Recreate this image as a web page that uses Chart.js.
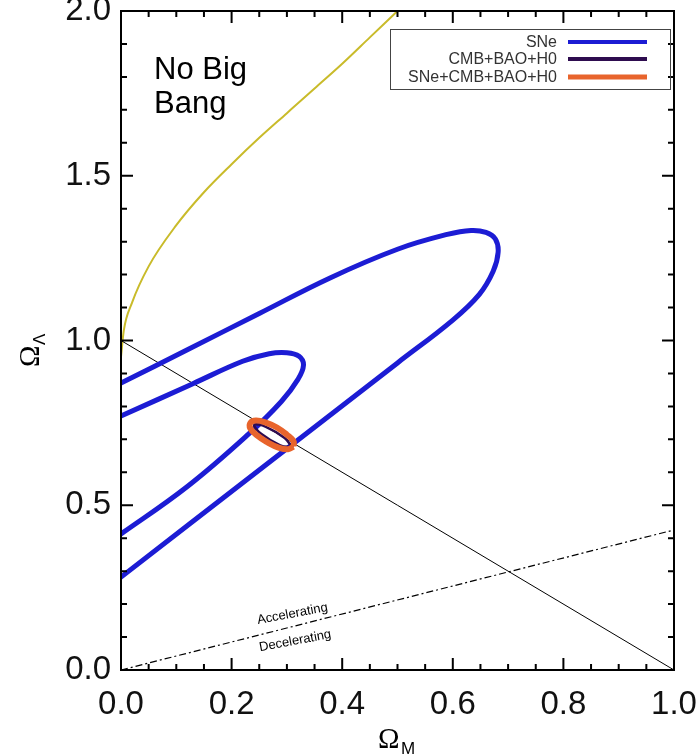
<!DOCTYPE html>
<html>
<head>
<meta charset="utf-8">
<script src="https://cdn.jsdelivr.net/npm/chart.js@4/dist/chart.umd.min.js"></script>
<style>
  body { margin: 0; background: #fff; }
  canvas { display: block; }
</style>
</head>
<body>
<canvas id="omegaChart" width="698" height="755"></canvas>
<script>
// --------------------
// DATA
// --------------------
const xTicks = [0, 0.2, 0.4, 0.6, 0.8, 1.0];
const yTicks = [0, 0.5, 1.0, 1.5, 2.0];

const legendLabels = ["SNe", "CMB+BAO+H0", "SNe+CMB+BAO+H0"];

// SNe outer contour (runs off the left edge)
const sneOuter = [
  {x: -0.05, y: 0.217}, {x: 0, y: 0.282}, {x: 0.25, y: 0.607}, {x: 0.5, y: 0.932},
  {x: 0.6, y: 1.062}, {x: 0.648, y: 1.140}, {x: 0.673, y: 1.210}, {x: 0.682, y: 1.268},
  {x: 0.677, y: 1.308}, {x: 0.660, y: 1.328}, {x: 0.633, y: 1.334}, {x: 0.590, y: 1.322},
  {x: 0.500, y: 1.277}, {x: 0.378, y: 1.190}, {x: 0.250, y: 1.082}, {x: 0.120, y: 0.972},
  {x: 0, y: 0.871}, {x: -0.05, y: 0.830}
];

// SNe inner contour
const sneInner = [
  {x: -0.05, y: 0.355}, {x: 0, y: 0.413}, {x: 0.120, y: 0.557}, {x: 0.230, y: 0.715},
  {x: 0.290, y: 0.815}, {x: 0.320, y: 0.882}, {x: 0.330, y: 0.925}, {x: 0.322, y: 0.952},
  {x: 0.300, y: 0.963}, {x: 0.268, y: 0.960}, {x: 0.220, y: 0.937}, {x: 0.130, y: 0.869},
  {x: 0, y: 0.771}, {x: -0.05, y: 0.735}
];

// CMB+BAO+H0
const cmbContour = [
  {x: 0.309, y: 0.676}, {x: 0.288, y: 0.682}, {x: 0.254, y: 0.716}, {x: 0.241, y: 0.744},
  {x: 0.262, y: 0.738}, {x: 0.296, y: 0.704}, {x: 0.309, y: 0.676}
];

// SNe+CMB+BAO+H0
const combContour = [
  {x: 0.312, y: 0.678}, {x: 0.302, y: 0.670}, {x: 0.285, y: 0.675}, {x: 0.265, y: 0.691},
  {x: 0.246, y: 0.712}, {x: 0.234, y: 0.733}, {x: 0.234, y: 0.750}, {x: 0.244, y: 0.757},
  {x: 0.262, y: 0.751}, {x: 0.282, y: 0.736}, {x: 0.300, y: 0.714}, {x: 0.312, y: 0.694},
  {x: 0.312, y: 0.678}
];

// no big bang boundary
const noBigBang = [
  {x: 0, y: 0.950}, {x: 0.005, y: 1.030}, {x: 0.020, y: 1.115}, {x: 0.050, y: 1.225},
  {x: 0.100, y: 1.350}, {x: 0.150, y: 1.450}, {x: 0.200, y: 1.535}, {x: 0.250, y: 1.615},
  {x: 0.300, y: 1.690}, {x: 0.350, y: 1.765}, {x: 0.400, y: 1.840}, {x: 0.450, y: 1.920},
  {x: 0.500, y: 2.000}
];

const flatLine = [{x: 0, y: 1}, {x: 1, y: 0}];
const accelLine = [{x: 0, y: 0}, {x: 1, y: 0.425}];

const BLUE = "#1c1cd4";
const PURPLE = "#2e0c4f";
const ORANGE = "#e8642c";
const YELLOW = "#c9bb2a";
const FONT = "'Liberation Sans', Arial, sans-serif";

// --------------------
// PLUGINS
// --------------------
const frameTicks = {
  id: "frameTicks",
  afterDatasetsDraw(chart) {
    const {ctx, chartArea: a, scales} = chart;
    ctx.save();
    ctx.strokeStyle = "#000";
    ctx.lineWidth = 2;
    ctx.strokeRect(a.left, a.top, a.right - a.left, a.bottom - a.top);
    ctx.beginPath();
    for (let i = 0; i <= 20; i++) {
      const px = scales.x.getPixelForValue(i / 20);
      const len = i % 4 === 0 ? 12 : 6;
      ctx.moveTo(px, a.bottom); ctx.lineTo(px, a.bottom - len);
      ctx.moveTo(px, a.top); ctx.lineTo(px, a.top + len);
    }
    for (let i = 0; i <= 20; i++) {
      const py = scales.y.getPixelForValue(i / 10);
      const len = i % 5 === 0 ? 12 : 6;
      ctx.moveTo(a.left, py); ctx.lineTo(a.left + len, py);
      ctx.moveTo(a.right, py); ctx.lineTo(a.right - len, py);
    }
    ctx.stroke();
    ctx.restore();
  }
};

const annotations = {
  id: "annotations",
  afterDraw(chart) {
    const {ctx, scales} = chart;
    const x = scales.x, y = scales.y;
    ctx.save();

    // No Big Bang
    ctx.fillStyle = "#000";
    ctx.font = "31px " + FONT;
    ctx.textAlign = "left";
    ctx.textBaseline = "alphabetic";
    ctx.fillText("No Big", 154, 79);
    ctx.fillText("Bang", 154, 113);

    // Accelerating / Decelerating
    ctx.font = "13px " + FONT;
    ctx.textAlign = "center";
    ctx.textBaseline = "middle";
    const ang = -Math.atan((y.getPixelForValue(0) - y.getPixelForValue(0.425)) /
                            (x.getPixelForValue(1) - x.getPixelForValue(0))) * 0.75;
    [["Accelerating", 0.31, 0.17], ["Decelerating", 0.315, 0.088]].forEach(([t, vx, vy]) => {
      ctx.save();
      ctx.translate(x.getPixelForValue(vx), y.getPixelForValue(vy));
      ctx.rotate(ang);
      ctx.fillText(t, 0, 0);
      ctx.restore();
    });

    // axis titles
    ctx.textAlign = "left";
    ctx.textBaseline = "alphabetic";
    ctx.font = "29px 'Liberation Serif', serif";
    ctx.fillText("\u03A9", 378, 748);
    ctx.font = "17px " + FONT;
    ctx.fillText("M", 401, 754);

    ctx.save();
    ctx.translate(39, 367);
    ctx.rotate(-Math.PI / 2);
    ctx.font = "29px 'Liberation Serif', serif";
    ctx.fillText("\u03A9", 0, 0);
    ctx.font = "17px " + FONT;
    ctx.fillText("\u039B", 22, 6);
    ctx.restore();

    // legend
    ctx.lineWidth = 1;
    ctx.strokeStyle = "#444";
    ctx.strokeRect(390.5, 29.5, 280, 60);
    const colors = [BLUE, PURPLE, ORANGE];
    const widths = [4, 4, 5];
    const rows = [42, 59, 77];
    ctx.font = "16px " + FONT;
    ctx.fillStyle = "#333";
    ctx.textAlign = "right";
    ctx.textBaseline = "middle";
    legendLabels.forEach((lab, i) => {
      ctx.fillText(lab, 557, rows[i] + 1);
      ctx.beginPath();
      ctx.strokeStyle = colors[i];
      ctx.lineWidth = widths[i];
      ctx.moveTo(568, rows[i]);
      ctx.lineTo(647, rows[i]);
      ctx.stroke();
    });
    ctx.restore();
  }
};

// --------------------
// CHART
// --------------------
const line = (data, color, width, extra) => Object.assign({
  data: data,
  showLine: true,
  borderColor: color,
  borderWidth: width,
  pointRadius: 0,
  fill: false,
  clip: 0
}, extra || {});

new Chart(document.getElementById("omegaChart").getContext("2d"), {
  type: "scatter",
  data: {
    datasets: [
      line(combContour, ORANGE, 6, {label: legendLabels[2], tension: 0.45}),
      line(cmbContour, PURPLE, 2.5, {label: legendLabels[1], tension: 0.4}),
      line(sneInner, BLUE, 5, {label: legendLabels[0], tension: 0.4}),
      line(sneOuter, BLUE, 5, {label: legendLabels[0], tension: 0.4}),
      line(flatLine, "#000", 1, {label: "flat"}),
      line(accelLine, "#000", 1.2, {label: "q0", borderDash: [7, 3, 2, 3]}),
      line(noBigBang, YELLOW, 2, {label: "No Big Bang", cubicInterpolationMode: "monotone"})
    ]
  },
  options: {
    responsive: false,
    animation: false,
    devicePixelRatio: 1,
    layout: { padding: { top: 11, right: 24, left: 0, bottom: 0 } },
    plugins: { legend: { display: false }, tooltip: { enabled: false } },
    scales: {
      x: {
        type: "linear",
        min: 0, max: 1,
        afterBuildTicks: s => { s.ticks = xTicks.map(v => ({value: v})); },
        afterFit: s => { s.height = 85; s.paddingLeft = 0; s.paddingRight = 0; },
        grid: { display: false, drawTicks: false },
        border: { display: false },
        ticks: {
          padding: 15,
          color: "#111",
          font: { family: FONT, size: 33 },
          callback: v => v.toFixed(1),
          maxRotation: 0
        }
      },
      y: {
        type: "linear",
        min: 0, max: 2,
        afterBuildTicks: s => { s.ticks = yTicks.map(v => ({value: v})); },
        afterFit: s => { s.width = 121; s.paddingTop = 0; s.paddingBottom = 0; },
        grid: { display: false, drawTicks: false },
        border: { display: false },
        ticks: {
          padding: 10,
          color: "#111",
          font: { family: FONT, size: 33 },
          callback: v => v.toFixed(1)
        }
      }
    }
  },
  plugins: [frameTicks, annotations]
});
</script>
</body>
</html>
